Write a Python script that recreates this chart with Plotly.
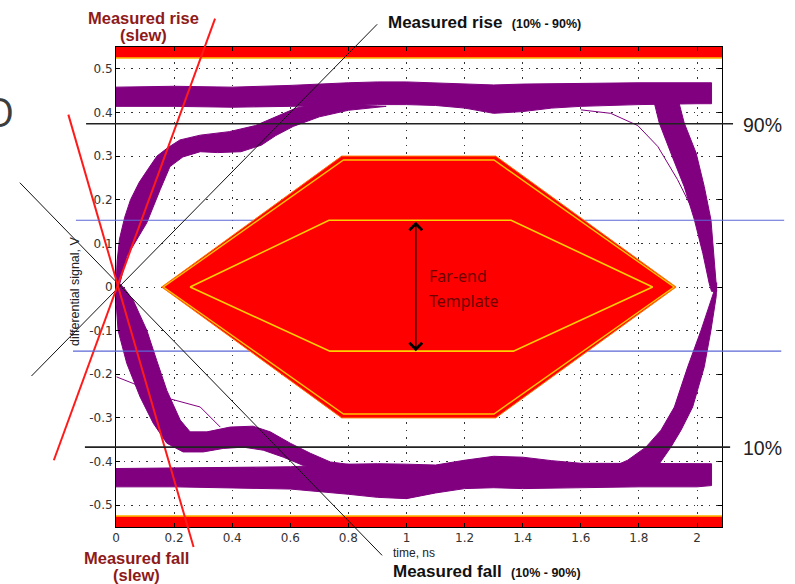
import plotly.graph_objects as go

W, H = 795, 584
X_RANGE = [0.0, 2.086]
Y_RANGE = [-0.55, 0.55]

x_tick_vals = [0, 0.2, 0.4, 0.6, 0.8, 1.0, 1.2, 1.4, 1.6, 1.8, 2.0]
x_tick_text = ["0", "0.2", "0.4", "0.6", "0.8", "1", "1.2", "1.4", "1.6", "1.8", "2"]
y_tick_vals = [-0.5, -0.4, -0.3, -0.2, -0.1, 0, 0.1, 0.2, 0.3, 0.4, 0.5]
y_tick_text = ["-0.5", "-0.4", "-0.3", "-0.2", "-0.1", "0", "0.1", "0.2", "0.3", "0.4", "0.5"]

# ---- eye rails (high / low levels) ----
rail_x = [0.0, 0.2, 0.4, 0.6, 0.8, 0.9, 1.0, 1.1, 1.2, 1.3, 1.4, 1.5, 1.6, 1.8, 2.0, 2.05]
top_rail_hi = [0.458, 0.46, 0.458, 0.462, 0.468, 0.47, 0.47, 0.468, 0.466, 0.463, 0.465, 0.466, 0.466, 0.468, 0.468, 0.468]
top_rail_lo = [0.414, 0.414, 0.412, 0.414, 0.416, 0.418, 0.418, 0.416, 0.41, 0.398, 0.402, 0.41, 0.414, 0.418, 0.42, 0.42]
bot_rail_hi = [-0.416, -0.415, -0.414, -0.412, -0.406, -0.405, -0.406, -0.408, -0.397, -0.388, -0.39, -0.398, -0.404, -0.404, -0.405, -0.405]
bot_rail_lo = [-0.458, -0.458, -0.46, -0.463, -0.475, -0.482, -0.485, -0.472, -0.462, -0.46, -0.462, -0.462, -0.46, -0.458, -0.458, -0.455]

# ---- left rising edge band ----
rise_a_x = [0.0, 0.004, 0.012, 0.03, 0.05, 0.08, 0.11, 0.141, 0.18, 0.22, 0.29, 0.39, 0.48, 0.55, 0.62, 0.70]
rise_a_y = [0.0, 0.06, 0.11, 0.16, 0.20, 0.24, 0.27, 0.30, 0.32, 0.337, 0.348, 0.356, 0.37, 0.39, 0.41, 0.42]
rise_b_x = [0.93, 0.80, 0.70, 0.61, 0.55, 0.50, 0.43, 0.35, 0.29, 0.23, 0.186, 0.152, 0.106, 0.037, 0.01, 0.0]
rise_b_y = [0.414, 0.405, 0.39, 0.368, 0.347, 0.325, 0.31, 0.308, 0.31, 0.298, 0.276, 0.223, 0.147, 0.07, 0.0, -0.015]

# ---- left falling edge band ----
fall_a_x = [0.0, 0.025, 0.059, 0.106, 0.14, 0.175, 0.221, 0.255, 0.313, 0.393, 0.472, 0.531, 0.60, 0.669, 0.738, 0.83, 0.945]
fall_a_y = [0.015, 0.0, -0.03, -0.099, -0.168, -0.237, -0.305, -0.332, -0.332, -0.321, -0.319, -0.332, -0.358, -0.381, -0.401, -0.409, -0.413]
fall_b_x = [0.783, 0.714, 0.645, 0.576, 0.507, 0.438, 0.369, 0.30, 0.231, 0.175, 0.128, 0.083, 0.037, 0.007, 0.0]
fall_b_y = [-0.416, -0.416, -0.409, -0.39, -0.374, -0.367, -0.37, -0.378, -0.378, -0.358, -0.312, -0.252, -0.175, -0.099, -0.03]

# ---- right falling edge band ----
rfall_a_x = [1.85, 1.87, 1.91, 1.956, 1.991, 2.02, 2.042, 2.05]
rfall_a_y = [0.43, 0.376, 0.307, 0.23, 0.154, 0.077, 0.008, -0.01]
rfall_b_x = [2.068, 2.066, 2.058, 2.048, 2.025, 1.997, 1.956, 1.935]
rfall_b_y = [-0.01, 0.008, 0.077, 0.154, 0.23, 0.307, 0.376, 0.43]

# ---- right rising edge band ----
rrise_a_x = [2.062, 2.06, 2.014, 1.968, 1.922, 1.876, 1.824, 1.761, 1.70]
rrise_a_y = [0.01, -0.007, -0.099, -0.183, -0.275, -0.328, -0.367, -0.397, -0.415]
rrise_b_x = [1.86, 1.91, 1.945, 1.985, 2.025, 2.048, 2.066, 2.068]
rrise_b_y = [-0.415, -0.367, -0.328, -0.275, -0.183, -0.099, -0.022, 0.01]

# ---- stray single traces ----
stray1_x = [0.002, 0.059, 0.162, 0.29, 0.359]
stray1_y = [-0.206, -0.221, -0.252, -0.275, -0.321]
stray2_x = [1.6, 1.703, 1.796, 1.865, 1.933, 1.99, 2.037, 2.059]
stray2_y = [0.406, 0.398, 0.37, 0.322, 0.246, 0.17, 0.07, 0.008]

# ---- far-end template ----
tmpl_outer_x = [0.157, 0.777, 1.307, 1.928, 1.307, 0.777, 0.157]
tmpl_outer_y = [0.0, 0.30, 0.30, 0.0, -0.30, -0.30, 0.0]
tmpl_edge_x = [0.163, 0.783, 1.301, 1.921, 1.301, 0.783, 0.163]
tmpl_edge_y = [0.0, 0.291, 0.291, 0.0, -0.291, -0.291, 0.0]
tmpl_inner_x = [0.255, 0.733, 1.36, 1.847, 1.368, 0.736, 0.255]
tmpl_inner_y = [0.0, 0.153, 0.153, 0.0, -0.147, -0.147, 0.0]
arrow_x = 1.032
arrow_top, arrow_bottom = 0.153, -0.147

# ---- limit bands ----
limit_level = 0.525

# ---- reference levels ----
level_90, level_90_span = 0.374, [-0.103, 2.124]
level_10, level_10_span = -0.367, [-0.107, 2.114]
blue_hi, blue_hi_span = 0.153, [-0.138, 2.30]
blue_lo, blue_lo_span = -0.147, [-0.148, 2.29]

# ---- slope lines (data units, extend beyond axes) ----
black_rise = ([-0.291, 0.899], [-0.204, 0.602])
black_fall = ([-0.331, 0.916], [0.239, -0.615])
red_rise_slew = ([-0.214, 0.341], [-0.397, 0.615])
red_fall_slew = ([-0.164, 0.267], [0.395, -0.596])

PURPLE = "#800080"
RED = "#FF0000"
BLUE = "#5B67D6"

ML, MR, MT, MB = 116, 73, 47, 57
PW, PH = W - ML - MR, H - MT - MB


def px(v):
    return (v - X_RANGE[0]) / (X_RANGE[1] - X_RANGE[0])


def py(v):
    return (v - Y_RANGE[0]) / (Y_RANGE[1] - Y_RANGE[0])


def ppx(pix):  # pixel -> paper (for text placement)
    return (pix - ML) / PW


def ppy(pix):
    return (H - MB - pix) / PH


fig = go.Figure()


def poly(x, y, fill, line, lw=1.0):
    fig.add_trace(go.Scatter(x=x, y=y, mode="lines", fill="toself", fillcolor=fill,
                             line=dict(color=line, width=lw), hoverinfo="skip", showlegend=False))


def line(x, y, color, lw=1.0):
    fig.add_trace(go.Scatter(x=x, y=y, mode="lines", line=dict(color=color, width=lw),
                             hoverinfo="skip", showlegend=False))


# purple eye
poly(rail_x + rail_x[::-1], top_rail_hi + top_rail_lo[::-1], PURPLE, PURPLE)
poly(rail_x + rail_x[::-1], bot_rail_hi + bot_rail_lo[::-1], PURPLE, PURPLE)
poly(rise_a_x + rise_b_x, rise_a_y + rise_b_y, PURPLE, PURPLE)
poly(fall_a_x + fall_b_x, fall_a_y + fall_b_y, PURPLE, PURPLE)
poly(rfall_a_x + rfall_b_x, rfall_a_y + rfall_b_y, PURPLE, PURPLE)
poly(rrise_a_x + rrise_b_x, rrise_a_y + rrise_b_y, PURPLE, PURPLE)
line(stray1_x, stray1_y, PURPLE, 1)
line(stray2_x, stray2_y, PURPLE, 1)

# blue levels (inside part)
line(list(X_RANGE), [blue_hi, blue_hi], BLUE, 1.2)
line(list(X_RANGE), [blue_lo, blue_lo], BLUE, 1.2)

# template
poly(tmpl_outer_x, tmpl_outer_y, RED, "#FF7A00", 1.0)
line(tmpl_edge_x, tmpl_edge_y, "#FFC400", 1.4)
line(tmpl_inner_x, tmpl_inner_y, "#FFD000", 1.6)

# limit bands
poly([X_RANGE[0], X_RANGE[1], X_RANGE[1], X_RANGE[0]],
     [limit_level, limit_level, Y_RANGE[1], Y_RANGE[1]], RED, RED, 0.5)
poly([X_RANGE[0], X_RANGE[1], X_RANGE[1], X_RANGE[0]],
     [-limit_level, -limit_level, Y_RANGE[0], Y_RANGE[0]], RED, RED, 0.5)
line(list(X_RANGE), [limit_level, limit_level], "#FFC000", 1.5)
line(list(X_RANGE), [-limit_level, -limit_level], "#FFC000", 1.5)

shapes = []


def seg(x0, y0, x1, y1, color, width):
    shapes.append(dict(type="line", xref="paper", yref="paper", x0=x0, y0=y0, x1=x1, y1=y1,
                       line=dict(color=color, width=width), layer="above"))


for (xs, ys), col, w in [(black_rise, "#111111", 1.0), (black_fall, "#111111", 1.0),
                         (red_rise_slew, "#FF1A1A", 2.0), (red_fall_slew, "#FF1A1A", 2.0)]:
    seg(px(xs[0]), py(ys[0]), px(xs[1]), py(ys[1]), col, w)

for lvl, span in [(level_90, level_90_span), (level_10, level_10_span)]:
    seg(px(span[0]), py(lvl), px(span[1]), py(lvl), "#222222", 1.6)

for lvl, span in [(blue_hi, blue_hi_span), (blue_lo, blue_lo_span)]:
    seg(px(span[0]), py(lvl), 0, py(lvl), BLUE, 1.2)
    seg(1, py(lvl), px(span[1]), py(lvl), BLUE, 1.2)

ARIAL = "Liberation Sans, Arial, sans-serif"
DARKRED = "#8E1A1A"


def txt(xp, yp, text, size, color, family=ARIAL, anchor="center", **kw):
    d = dict(x=ppx(xp), y=ppy(yp), xref="paper", yref="paper", showarrow=False, text=text,
             font=dict(family=family, size=size, color=color), xanchor=anchor, yanchor="middle")
    d.update(kw)
    return d


annotations = [
    txt(143, 18, "<b>Measured rise</b>", 16.5, DARKRED),
    txt(143, 35, "<b>(slew)</b>", 16.5, DARKRED),
    txt(136, 558, "<b>Measured fall</b>", 16.5, DARKRED),
    txt(136, 575, "<b>(slew)</b>", 16.5, DARKRED),
    txt(386, 23, "<b>Measured rise</b>  <b><span style='font-size:12.5px'>(10% - 90%)</span></b>",
        17, "#111111", anchor="left"),
    txt(391, 571, "<b>Measured fall</b>  <b><span style='font-size:12.5px'>(10% - 90%)</span></b>",
        17, "#111111", anchor="left"),
    txt(391, 553, "time, ns", 12, "#222222", anchor="left"),
    txt(75, 291, "differential signal, V", 12.5, "#222222", textangle=-90),
    txt(741, 125, "90%", 19.5, "#222222", anchor="left"),
    txt(741, 448, "10%", 19.5, "#222222", anchor="left"),
    txt(15.5, 112, "O", 40, "#3d3d3d", family="Open Sans", anchor="right"),
    dict(x=1.072, y=0.025, xref="x", yref="y", showarrow=False,
         text="Far-end", font=dict(family="Noto Sans", size=16, color="#6E0000"),
         xanchor="left", yanchor="middle"),
    dict(x=1.072, y=-0.031, xref="x", yref="y", showarrow=False,
         text="Template", font=dict(family="Noto Sans", size=16, color="#6E0000"),
         xanchor="left", yanchor="middle"),
    dict(x=arrow_x, y=arrow_bottom, ax=arrow_x, ay=arrow_top, xref="x", yref="y",
         axref="x", ayref="y", text="", showarrow=True, arrowhead=4, startarrowhead=4,
         arrowside="end+start", arrowwidth=1.3, arrowsize=1.9, startarrowsize=1.9,
         arrowcolor="#000000"),
]

axis_common = dict(showline=True, linecolor="#000000", linewidth=1, mirror="ticks",
                   ticks="inside", ticklen=4, tickcolor="#000000", zeroline=False,
                   showgrid=True, gridcolor="#333333", gridwidth=1, griddash="1.5px,6px",
                   tickfont=dict(family="DejaVu Sans", size=12, color="#333333"))

fig.update_layout(
    width=W, height=H,
    margin=dict(l=ML, r=MR, t=MT, b=MB),
    paper_bgcolor="white", plot_bgcolor="white",
    showlegend=False,
    hovermode=False,
    xaxis=dict(range=X_RANGE, tickvals=x_tick_vals, ticktext=x_tick_text, **axis_common),
    yaxis=dict(range=Y_RANGE, tickvals=y_tick_vals, ticktext=y_tick_text, **axis_common),
    shapes=shapes,
    annotations=annotations,
)

fig.write_html("out.html", config={"displayModeBar": False, "staticPlot": True},
               post_script="document.body.style.margin='0px';")
